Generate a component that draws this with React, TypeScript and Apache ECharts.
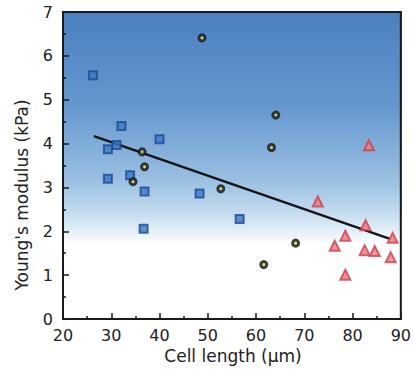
import React, { useEffect, useRef } from "react";
import * as echarts from "echarts";

const squareX = [26.2, 29.3, 31.1, 32.1, 40.0, 29.3, 33.9, 36.9, 36.7, 48.3, 56.6];
const squareY = [5.56, 3.87, 3.97, 4.40, 4.10, 3.20, 3.28, 2.91, 2.06, 2.86, 2.28];
const circleX = [48.8, 36.4, 36.9, 34.5, 52.7, 64.1, 63.2, 68.2, 61.6];
const circleY = [6.41, 3.81, 3.47, 3.13, 2.97, 4.65, 3.91, 1.73, 1.24];
const triX = [83.4, 72.8, 82.7, 78.5, 76.3, 82.5, 84.6, 88.3, 87.9, 78.5];
const triY = [3.96, 2.68, 2.14, 1.90, 1.67, 1.57, 1.55, 1.85, 1.41, 1.01];
const fitX = [26.4, 87.9];
const fitY = [4.17, 1.82];

const xTicks = [20, 30, 40, 50, 60, 70, 80, 90];
const yTicks = [0, 1, 2, 3, 4, 5, 6, 7];

const zip = (xs: number[], ys: number[]) => xs.map((x, i) => [x, ys[i]]);

const FONT = "DejaVu Sans";

export default function App() {
  const ref = useRef<HTMLDivElement>(null);
  useEffect(() => {
    if (!ref.current) return;
    const chart = echarts.init(ref.current, undefined, { renderer: "svg" });
    const L = 63, T = 12, R = 402, B = 319;
    chart.setOption({
      animation: false,
      backgroundColor: "#ffffff",
      grid: {
        left: L,
        top: T,
        right: 414 - R,
        bottom: 374 - B,
        show: true,
        borderColor: "#1a1a1a",
        borderWidth: 2,
        backgroundColor: "transparent",
      },
      graphic: [
        {
          type: "rect",
          z: -10,
          silent: true,
          shape: { x: L, y: T, width: R - L, height: B - T },
          style: {
            fill: new echarts.graphic.LinearGradient(0, 0, 0, 1, [
              { offset: 0, color: "#4c7fc0" },
              { offset: 0.3, color: "#6496ce" },
              { offset: 0.55, color: "#9ac0e2" },
              { offset: 0.66, color: "#c6ddef" },
              { offset: 0.72, color: "#e8f2f9" },
              { offset: 0.76, color: "#ffffff" },
              { offset: 1, color: "#ffffff" },
            ]),
          },
        },
        {
          type: "text",
          x: 22,
          y: 195,
          rotation: Math.PI / 2,
          style: {
            text: "Young's modulus (kPa)",
            font: `17px "${FONT}"`,
            fill: "#222",
            align: "center",
            verticalAlign: "middle",
          },
        },
        {
          type: "text",
          x: 233,
          y: 356,
          style: {
            text: "Cell length (\u03bcm)",
            font: `17px "${FONT}"`,
            fill: "#222",
            align: "center",
            verticalAlign: "middle",
          },
        },
      ],
      xAxis: {
        type: "value",
        min: xTicks[0],
        max: xTicks[xTicks.length - 1],
        interval: 10,
        axisLine: { show: true, lineStyle: { color: "#1a1a1a", width: 2 } },
        axisTick: { show: true, inside: true, length: 6, lineStyle: { color: "#1a1a1a", width: 1.5 } },
        minorTick: { show: true, splitNumber: 2, length: 3, lineStyle: { color: "#1a1a1a", width: 1.5 } },
        splitLine: { show: false },
        axisLabel: { color: "#222", fontSize: 16, fontFamily: FONT, margin: 8 },
      },
      yAxis: {
        type: "value",
        min: yTicks[0],
        max: yTicks[yTicks.length - 1],
        interval: 1,
        axisLine: { show: true, lineStyle: { color: "#1a1a1a", width: 2 } },
        axisTick: { show: true, inside: true, length: 6, lineStyle: { color: "#1a1a1a", width: 1.5 } },
        minorTick: { show: true, splitNumber: 2, length: 3, lineStyle: { color: "#1a1a1a", width: 1.5 } },
        splitLine: { show: false },
        axisLabel: { color: "#222", fontSize: 16, fontFamily: FONT, margin: 10 },
      },
      series: [
        {
          type: "line",
          data: zip(fitX, fitY),
          symbol: "none",
          lineStyle: { color: "#151515", width: 2.5 },
          z: 3,
        },
        {
          type: "scatter",
          data: zip(squareX, squareY),
          symbol: "rect",
          symbolSize: 8,
          itemStyle: { color: "#3b78c8", borderColor: "#1d4a94", borderWidth: 2 },
          z: 4,
        },
        {
          type: "scatter",
          data: zip(circleX, circleY),
          symbol: "circle",
          symbolSize: 6,
          itemStyle: { color: "#e2e07a", borderColor: "#111111", borderWidth: 3 },
          z: 4,
        },
        {
          type: "scatter",
          data: zip(triX, triY),
          symbol: "triangle",
          symbolSize: 10,
          itemStyle: { color: "#ec7a7e", borderColor: "#d0404e", borderWidth: 2 },
          z: 4,
        },
      ],
    });
    return () => chart.dispose();
  }, []);
  return (
    <div
      ref={ref}
      style={{ position: "fixed", left: 0, top: 0, width: 414, height: 374 }}
    />
  );
}
